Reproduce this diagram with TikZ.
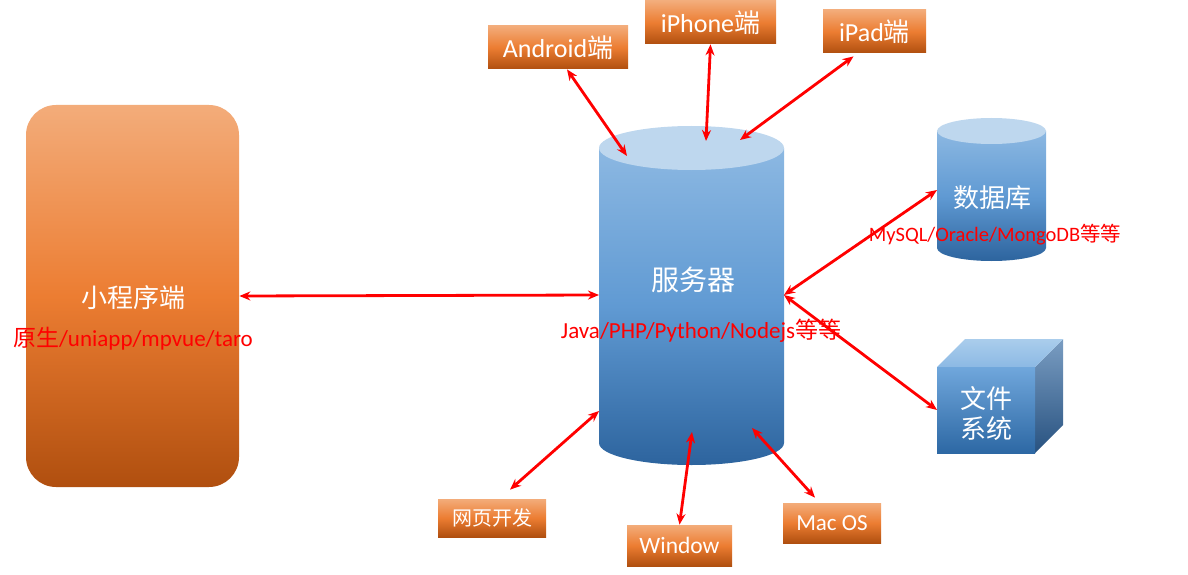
\documentclass[tikz,border=0pt]{standalone}
\usepackage{fontspec}
\setmainfont{Carlito}
\newfontfamily\cjk{Noto Sans CJK SC}
\usetikzlibrary{arrows.meta}
\newcommand{\zh}[1]{{\cjk #1}}

\definecolor{orLight}{RGB}{243,172,122}
\definecolor{orMid}{RGB}{236,125,50}
\definecolor{orDark}{RGB}{176,79,15}
\definecolor{blTop}{RGB}{190,215,238}
\definecolor{blLight}{RGB}{140,184,226}
\definecolor{blMid}{RGB}{96,154,211}
\definecolor{blDark}{RGB}{45,100,158}

\tikzset{every picture/.style={line width=0.75pt}}
\tikzset{
  obox/.style={top color=orLight, bottom color=orDark, middle color=orMid, text=white, inner sep=0pt},
  dbl/.style={red, line width=2.8pt, {Stealth[length=11pt,width=9pt]}-{Stealth[length=11pt,width=9pt]}},
  wlabel/.style={text=white, font=\fontsize{26}{30}\selectfont\cjk},
  rlabel/.style={text=red, font=\fontsize{23}{26}\selectfont}
}

\begin{document}
\begin{tikzpicture}[x=1pt,y=-1pt]
        \useasboundingbox (0,0) rectangle (1188,575);
        % mini program
        \node[obox, rounded corners=30pt, minimum width=213pt, minimum height=382pt] (mini) at (132.5,296) {};
        \node[wlabel] (miniT) at (133,298) {小程序端};
        \node[rlabel] (miniR) at (133,339) {\zh{原生}/uniapp/mpvue/taro};
        % server
        \shade[top color=blLight, bottom color=blDark, middle color=blMid] (599,148) -- (599,443)
            arc[start angle=180, end angle=0, x radius=92.5, y radius=22] -- (784,148) -- cycle;
        \fill[blTop] (691.5,148) ellipse [x radius=92.5, y radius=22];
        \node[wlabel, font=\fontsize{28}{32}\selectfont\cjk] (srv) at (693,280) {服务器};
        \node[rlabel] (srvR) at (701,331) {Java/PHP/Python/Nodejs\zh{等等}};
        % database
        \shade[top color=blLight, bottom color=blDark, middle color=blMid] (937,131) -- (937,248)
            arc[start angle=180, end angle=0, x radius=54.5, y radius=13] -- (1046,131) -- cycle;
        \fill[blTop] (991.5,131) ellipse [x radius=54.5, y radius=13];
        \node[wlabel] (db) at (992,198) {数据库};
        \node[rlabel, font=\fontsize{20.5}{24}\selectfont] (dbR) at (995,235) {MySQL/Oracle/MongoDB\zh{等等}};
        % file system
        \shade[top color={rgb,255:red,122;green,157;blue,194}, bottom color={rgb,255:red,40;green,82;blue,128}]
            (1035,367) -- (1063,339) -- (1063,425) -- (1035,453) -- cycle;
        \shade[top color={rgb,255:red,170;green,205;blue,236}, bottom color={rgb,255:red,140;green,185;blue,228}]
            (937,367) -- (965,339) -- (1063,339) -- (1035,367) -- cycle;
        \shade[top color={rgb,255:red,112;green,167;blue,220}, bottom color={rgb,255:red,45;green,104;blue,164}]
            (937,367) rectangle (1035,453);
        \node[wlabel, align=center] (fs) at (986,413) {文件\\系统};
        % clients
        \node[obox, minimum width=140pt, minimum height=43pt, font=\fontsize{26}{30}\selectfont] (android) at (558,47.5) {Android\zh{端}};
        \node[obox, minimum width=131pt, minimum height=43pt, font=\fontsize{26}{30}\selectfont] (iphone) at (710.5,22.5) {iPhone\zh{端}};
        \node[obox, minimum width=103pt, minimum height=43pt, font=\fontsize{26}{30}\selectfont] (ipad) at (874.5,31.5) {iPad\zh{端}};
        \node[obox, minimum width=108pt, minimum height=38pt, font=\fontsize{20}{24}\selectfont\cjk] (web) at (492,518) {网页开发};
        \node[obox, minimum width=105pt, minimum height=41pt, font=\fontsize{23.5}{28}\selectfont] (win) at (679.5,545.5) {Window};
        \node[obox, minimum width=98pt, minimum height=40pt, font=\fontsize{23}{28}\selectfont] (mac) at (832,523) {Mac OS};
        % end points on the shapes
        \coordinate (sAnd) at (627,156);
        \coordinate (sIph) at (706,141);
        \coordinate (sIpd) at (740,140);
        \coordinate (sL) at (599,295);
        \coordinate (sR) at (784,295);
        \coordinate (sWeb) at (599,411);
        \coordinate (sWin) at (692,432);
        \coordinate (sMac) at (752,428);
        \coordinate (dbL) at (937,190);
        \coordinate (fsL) at (937,410);
        % links
        \draw[dbl] ([xshift=9pt]android.south) -- (sAnd);
        \draw[dbl] (iphone.south) -- (sIph);
        \draw[dbl] ([xshift=-21pt,yshift=-3pt]ipad.south) -- (sIpd);
        \draw[dbl] (mini.east) -- (sL);
        \draw[dbl] (sR) -- (dbL);
        \draw[dbl] (sR) -- (fsL);
        \draw[dbl] ([xshift=18pt,yshift=9pt]web.north) -- (sWeb);
        \draw[dbl] (sWin) -- (win.north);
        \draw[dbl] (sMac) -- ([xshift=-17pt,yshift=5pt]mac.north);
    \end{tikzpicture}
\end{document}
